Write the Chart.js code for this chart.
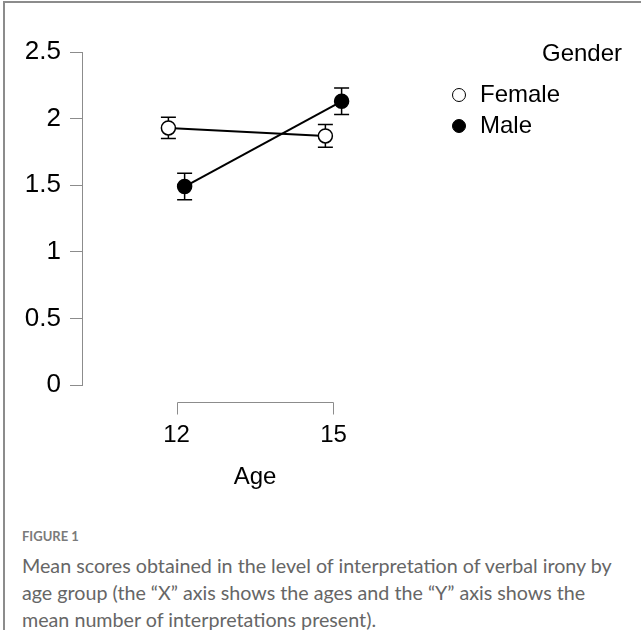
<!DOCTYPE html>
<html>
<head>
<meta charset="utf-8">
<script src="https://cdn.jsdelivr.net/npm/chart.js@4.4.0/dist/chart.umd.min.js"></script>
<style>
  html, body { margin: 0; padding: 0; background: #fff; }
  body { width: 641px; height: 630px; position: relative; overflow: hidden; font-family: "Liberation Sans", Arial, sans-serif; }
  #frame { position: absolute; left: 3px; top: 1px; width: 660px; height: 660px; border-top: 2px solid #8c8c8c; border-left: 2px solid #8c8c8c; box-sizing: border-box; }
  #wrap { position: absolute; left: 0; top: 0; width: 641px; height: 500px; }
  .lg { position: absolute; font-size: 24px; line-height: 24px; color: #000; white-space: nowrap; }
  .mk { position: absolute; width: 14px; height: 14px; border-radius: 50%; box-sizing: border-box; border: 1.5px solid #000; }
  .fig { position: absolute; left: 22px; top: 527px; font-family: Lato, "Open Sans", sans-serif; font-size: 13px; font-weight: 700; color: #7a7a7a; line-height: 18px; white-space: nowrap; }
  .txt { position: absolute; left: 22px; top: 552px; font-family: Lato, "Open Sans", sans-serif; font-size: 19.7px; line-height: 27px; color: #666; white-space: nowrap; }
</style>
</head>
<body>
<div id="frame"></div>
<div id="wrap"><canvas id="chart" width="641" height="500"></canvas></div>
<div id="legend"></div>
<div class="fig">FIGURE 1</div>
<div class="txt">Mean scores obtained in the level of interpretation of verbal irony by<br>age group (the “X” axis shows the ages and the “Y” axis shows the<br>mean number of interpretations present).</div>
<script>
// Age groups on the x axis
const ages = [12, 15];
// Mean interpretation scores and their error-bar half widths, per gender
const genders = ['Female', 'Male'];
const femaleMeans = [1.93, 1.87];
const femaleErr = [0.08, 0.085];
const maleMeans = [1.49, 2.13];
const maleErr = [0.1, 0.1];
// Axis labels
const yTicks = [0, 0.5, 1, 1.5, 2, 2.5];
const xTitle = 'Age';
const legendTitle = 'Gender';

// Small horizontal offset so the two genders do not overlap at each age
const DODGE = 0.155;
const FONT = { family: '"Liberation Sans", Arial, sans-serif', size: 24 };
const YFONT = { family: '"Liberation Sans", Arial, sans-serif', size: 26 };
const AXIS_GREY = '#8c8c8c';

function makeSeries(name, means, errs, offset, fill) {
  return {
    label: name,
    data: ages.map((a, i) => ({ x: a + offset, y: means[i] })),
    errors: errs,
    showLine: true,
    borderColor: '#000',
    borderWidth: 2,
    pointRadius: 7,
    pointHoverRadius: 7,
    pointBorderWidth: 1.5,
    pointBorderColor: '#000',
    pointBackgroundColor: fill
  };
}

// Vertical error bars with caps, drawn beneath the points
const errorBars = {
  id: 'errorBars',
  beforeDatasetsDraw(chart) {
    const { ctx, scales: { x, y } } = chart;
    ctx.save();
    ctx.strokeStyle = '#000';
    ctx.lineWidth = 1.5;
    chart.data.datasets.forEach(ds => {
      ds.data.forEach((p, i) => {
        const px = x.getPixelForValue(p.x);
        const top = y.getPixelForValue(p.y + ds.errors[i]);
        const bot = y.getPixelForValue(p.y - ds.errors[i]);
        const cap = 7.5;
        ctx.beginPath();
        ctx.moveTo(px, top); ctx.lineTo(px, bot);
        ctx.moveTo(px - cap, top); ctx.lineTo(px + cap, top);
        ctx.moveTo(px - cap, bot); ctx.lineTo(px + cap, bot);
        ctx.stroke();
      });
    });
    ctx.restore();
  }
};

// Range-frame bracket spanning the first and last age below the plot
const ageBracket = {
  id: 'ageBracket',
  afterDraw(chart) {
    const { ctx, chartArea, scales: { x } } = chart;
    const yLine = chartArea.bottom + 17.5;
    const x1 = Math.round(x.getPixelForValue(ages[0])) + 0.5;
    const x2 = Math.round(x.getPixelForValue(ages[ages.length - 1])) + 0.5;
    ctx.save();
    ctx.strokeStyle = AXIS_GREY;
    ctx.lineWidth = 1;
    ctx.beginPath();
    ctx.moveTo(x1, yLine + 12); ctx.lineTo(x1, yLine);
    ctx.lineTo(x2, yLine); ctx.lineTo(x2, yLine + 12);
    ctx.stroke();
    ctx.restore();
  }
};

new Chart(document.getElementById('chart'), {
  type: 'scatter',
  data: {
    datasets: [
      makeSeries(genders[0], femaleMeans, femaleErr, -DODGE, '#fff'),
      makeSeries(genders[1], maleMeans, maleErr, DODGE, '#000')
    ]
  },
  options: {
    responsive: false,
    devicePixelRatio: 1,
    animation: false,
    events: [],
    layout: { padding: { left: 0, top: 52, right: 213, bottom: 0 } },
    plugins: { legend: { display: false }, tooltip: { enabled: false } },
    scales: {
      x: {
        type: 'linear',
        bounds: 'data',
        min: 10.194,
        max: 16.806,
        afterBuildTicks: s => { s.ticks = ages.map(v => ({ value: v })); },
        afterFit: s => { s.height = 115; },
        ticks: { font: FONT, color: '#000', padding: 36, maxRotation: 0, autoSkip: false, callback: v => String(v) },
        grid: { display: false, drawTicks: false },
        border: { display: false },
        title: { display: true, text: xTitle, font: FONT, color: '#000', padding: { top: 0, bottom: 8 } }
      },
      y: {
        type: 'linear',
        min: 0,
        max: 2.5,
        afterBuildTicks: s => { s.ticks = yTicks.map(v => ({ value: v })); },
        afterFit: s => { s.width = 82; },
        ticks: { font: YFONT, color: '#000', padding: 9, callback: v => String(v) },
        grid: { display: true, drawOnChartArea: false, drawTicks: true, tickLength: 12, color: AXIS_GREY, lineWidth: 1 },
        border: { display: true, color: AXIS_GREY, width: 1 }
      }
    }
  },
  plugins: [errorBars, ageBracket]
});

// Legend: title plus one marker per gender
const legend = document.getElementById('legend');
const title = document.createElement('div');
title.className = 'lg';
title.style.left = '542px';
title.style.top = '41px';
title.textContent = legendTitle;
legend.appendChild(title);
const fills = ['#fff', '#000'];
genders.forEach((g, i) => {
  const top = 82 + i * 31;
  const mk = document.createElement('div');
  mk.className = 'mk';
  mk.style.left = '452px';
  mk.style.top = (top + 5.5) + 'px';
  mk.style.background = fills[i];
  legend.appendChild(mk);
  const t = document.createElement('div');
  t.className = 'lg';
  t.style.left = '480px';
  t.style.top = top + 'px';
  t.textContent = g;
  legend.appendChild(t);
});
</script>
</body>
</html>
